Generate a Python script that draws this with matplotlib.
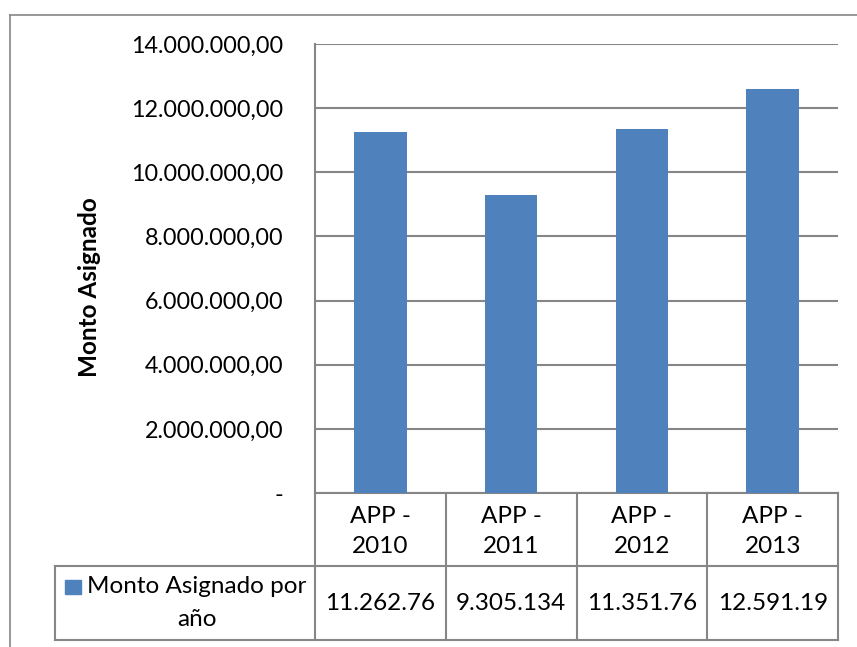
import matplotlib.pyplot as plt
from matplotlib.patches import Rectangle
from matplotlib.lines import Line2D
from matplotlib.ticker import FuncFormatter
import matplotlib.transforms as mtransforms

# datos
categorias = ["APP -\n2010", "APP -\n2011", "APP -\n2012", "APP -\n2013"]
montos = [11262760, 9305134, 11351760, 12591190]
montos_tabla = ["11.262.76", "9.305.134", "11.351.76", "12.591.19"]
serie = "Monto Asignado por\naño"
eje_y = "Monto Asignado"

azul = "#4F81BD"
gris = "#868686"
plt.rcParams["font.family"] = ["Lato", "DejaVu Sans"]

W, H = 857, 647
fig = plt.figure(figsize=(W / 100, H / 100), dpi=100)

# marco exterior
fig.add_artist(Line2D([10 / W, 1], [1 - 15 / H, 1 - 15 / H], color=gris, lw=1.2))
fig.add_artist(Line2D([10 / W, 10 / W], [0, 1 - 15 / H], color=gris, lw=1.2))

ax = fig.add_axes([315 / W, 1 - 493 / H, (838 - 315) / W, (493 - 44) / H])
x = list(range(len(montos)))
ax.bar(x, montos, width=0.4, color=azul, zorder=3)
ax.set_xlim(-0.5, 3.5)
ax.set_ylim(0, 14000000)
ax.set_yticks(range(0, 14000001, 2000000))


def fmt(v, pos):
    if v == 0:
        return "-"
    s = "{:,.2f}".format(v)
    return s.replace(",", "X").replace(".", ",").replace("X", ".")


ax.yaxis.set_major_formatter(FuncFormatter(fmt))
ax.tick_params(axis="y", length=0, pad=23, labelsize=16.8)
ax.set_xticks([])
ax.yaxis.grid(True, color=gris, lw=1.5, zorder=0)
for s in ["top", "right", "bottom"]:
    ax.spines[s].set_visible(False)
ax.spines["left"].set_color(gris)
ax.spines["left"].set_linewidth(1.5)
ax.set_ylabel(eje_y, fontsize=17.5, fontweight="bold")
ax.yaxis.set_label_coords(-0.41, 0.459)

# tabla de datos
tr = mtransforms.blended_transform_factory(ax.transData, ax.transAxes)
h1 = -73 / 449
h2 = -147 / 449
x_leg = -0.5 - 260 / 130.75
kw = dict(transform=tr, color=gris, lw=1.5, clip_on=False)
ax.add_artist(Line2D([-0.5, 3.5], [0, 0], **kw))
ax.add_artist(Line2D([x_leg, 3.5], [h1, h1], **kw))
ax.add_artist(Line2D([x_leg, 3.5], [h2, h2], **kw))
ax.add_artist(Line2D([x_leg, x_leg], [h1, h2], **kw))
for i in range(len(montos) + 1):
    ax.add_artist(Line2D([i - 0.5, i - 0.5], [0, h2], **kw))
for i in range(len(montos)):
    ax.text(i, h1 / 2 - 2 / 449, categorias[i], transform=tr, ha="center",
            va="center", fontsize=17.5, linespacing=1.5)
    ax.text(i, (h1 + h2) / 2, montos_tabla[i], transform=tr, ha="center",
            va="center", fontsize=17.5)
ax.text(-1.402, (h1 + h2) / 2, serie, transform=tr, ha="center",
        va="center", fontsize=17.5, linespacing=1.65)
ax.add_artist(Rectangle((-2.412, -101 / 449), 0.122, 14 / 449,
                        transform=tr, color=azul, clip_on=False))

fig.savefig("out.png", dpi=100)
